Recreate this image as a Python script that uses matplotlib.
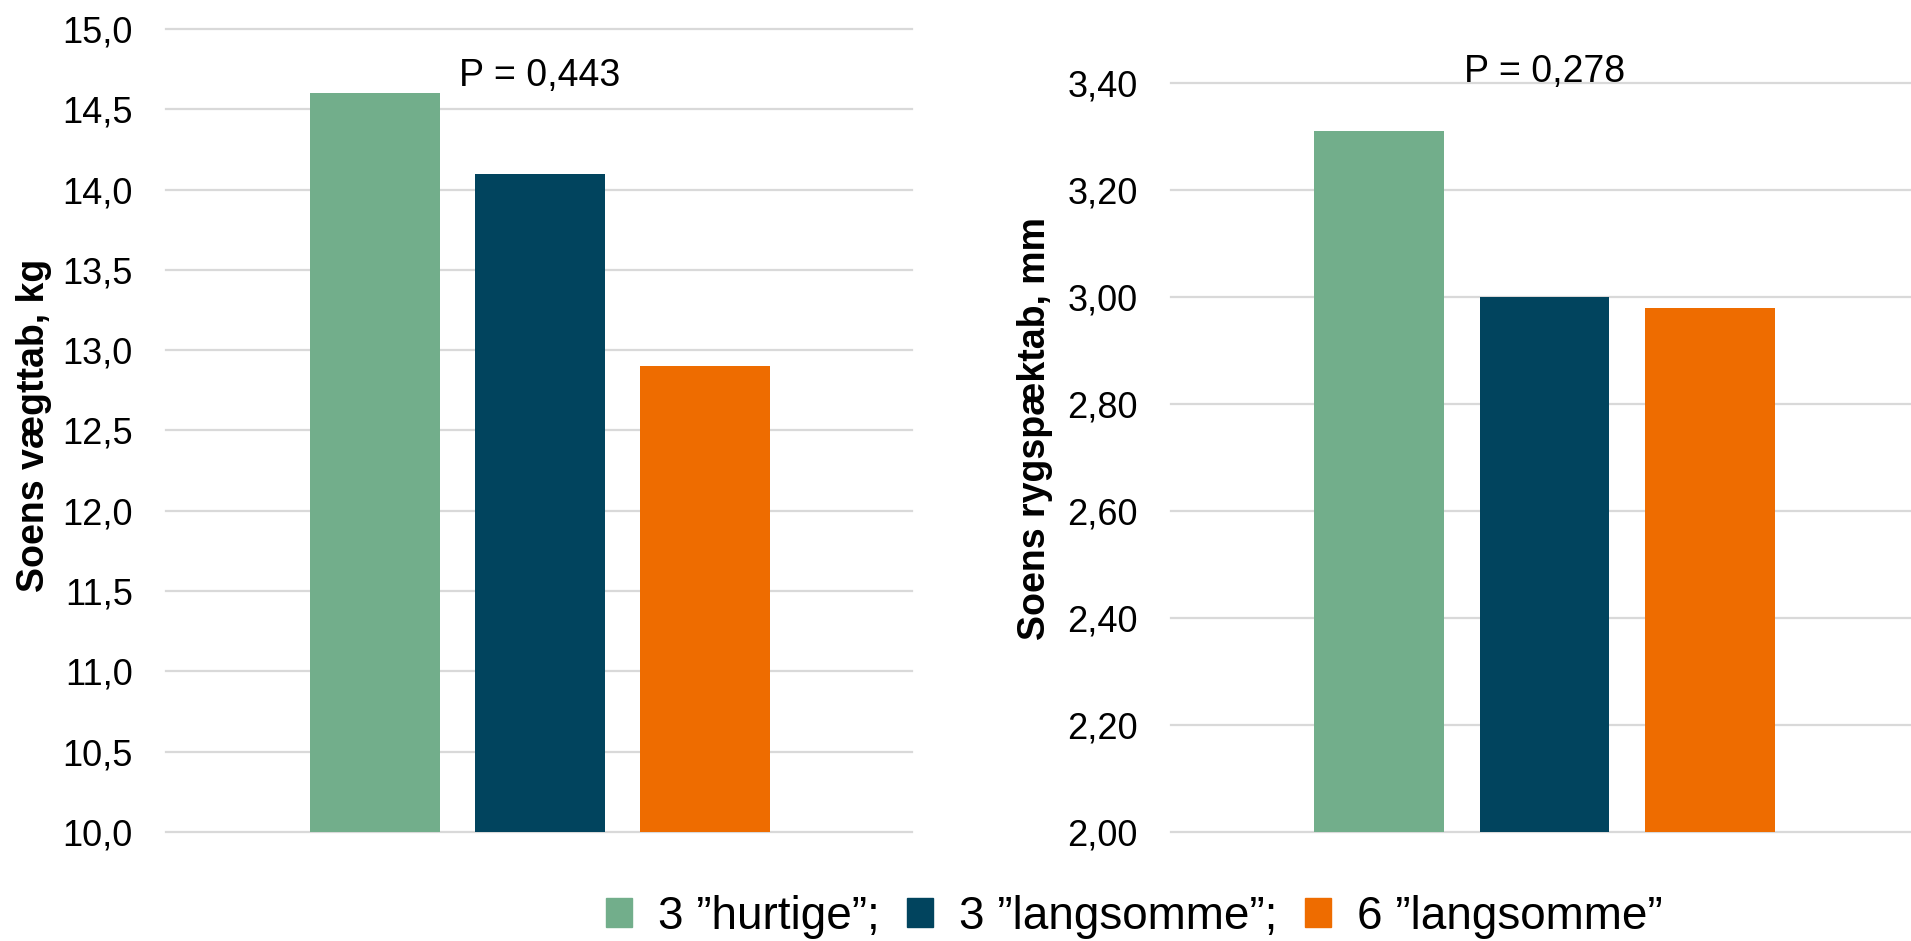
import matplotlib
matplotlib.use("Agg")
import matplotlib.pyplot as plt
import numpy as np

plt.rcParams['font.family'] = ['Liberation Sans', 'DejaVu Sans']

# Data
groups = ['3 ”hurtige”;', '3 ”langsomme”;', '6 ”langsomme”']
colors = ['#72AE8B', '#01445E', '#EE6C00']
weight_loss = [14.6, 14.1, 12.9]      # Soens vægttab, kg
backfat_loss = [3.31, 3.00, 2.98]     # Soens rygspæktab, mm
p_weight = 'P = 0,443'
p_backfat = 'P = 0,278'
weight_ticks = np.arange(10.0, 15.01, 0.5)
backfat_ticks = np.arange(2.0, 3.401, 0.2)

W, H = 1911, 941
fig = plt.figure(figsize=(W / 100, H / 100), dpi=100)

def px(x0, y0, x1, y1):
    # figure-pixel box -> figure fraction [left, bottom, width, height]
    return [x0 / W, 1 - y1 / H, (x1 - x0) / W, (y1 - y0) / H]

ax1 = fig.add_axes(px(166, 29, 912, 832))
ax2 = fig.add_axes(px(1171, 83, 1911, 832))

x = np.arange(len(groups))
bar_w = 0.785

def style(ax, ticks, fmt, ylim, xlim):
    ax.set_ylim(*ylim)
    ax.set_xlim(*xlim)
    ax.set_yticks(ticks)
    ax.set_yticklabels([fmt.format(t).replace('.', ',') for t in ticks], fontsize=26)
    ax.set_xticks([])
    ax.tick_params(axis='y', length=0, pad=24)
    for s in ax.spines.values():
        s.set_visible(False)
    ax.set_axisbelow(True)
    ax.yaxis.grid(True, color='#d9d9d9', linewidth=1.6)
    for gl in ax.get_ygridlines():
        gl.set_clip_on(False)

ax1.bar(x, weight_loss, width=bar_w, color=colors)
ax2.bar(x, backfat_loss, width=bar_w, color=colors)

style(ax1, weight_ticks, '{:.1f}', (10.0, 15.0), (-1.267, 3.255))
style(ax2, backfat_ticks, '{:.2f}', (2.0, 3.4), (-1.257, 3.215))

ax1.text(1, 14.71, p_weight, ha='center', va='center', fontsize=27)
ax2.text(1, 3.42, p_backfat, ha='center', va='center', fontsize=27)

fig.text(34 / W, 1 - 425 / H, 'Soens vægttab, kg', rotation=90,
         ha='center', va='center', fontsize=27, fontweight='bold')
fig.text(1035 / W, 1 - 428 / H, 'Soens rygspæktab, mm', rotation=90,
         ha='center', va='center', fontsize=27, fontweight='bold')

handles = [plt.Rectangle((0, 0), 1, 1, color=c) for c in colors]
fig.legend(handles, groups, loc='center left', ncol=3,
           bbox_to_anchor=(606 / W, 1 - 917 / H), frameon=False,
           fontsize=33, handlelength=0.57, handleheight=0.6,
           handletextpad=0.57, columnspacing=0.59,
           borderpad=0, borderaxespad=0)

fig.savefig('out.png', dpi=100)
